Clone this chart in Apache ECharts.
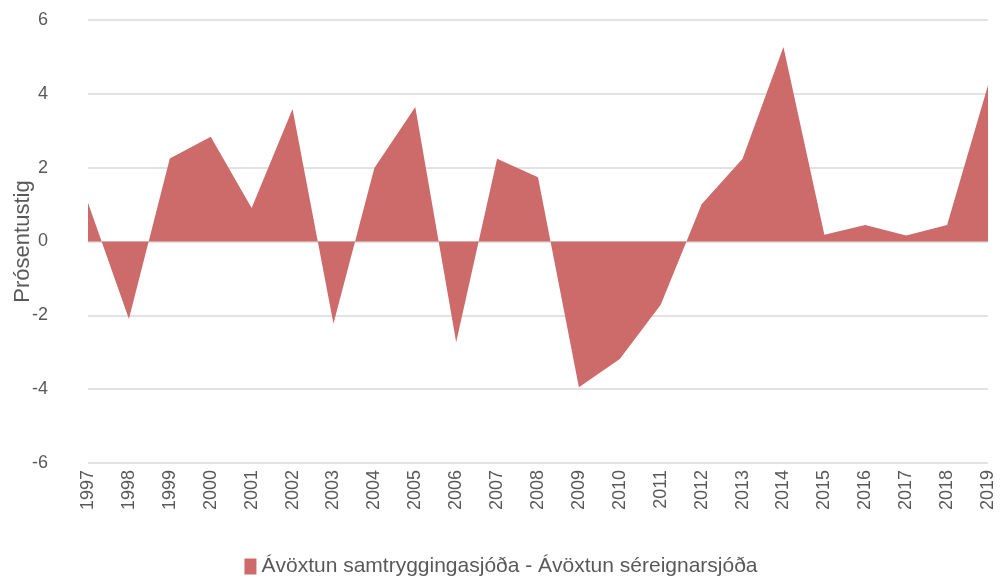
<!DOCTYPE html>
<html>
<head>
<meta charset="utf-8">
<script src="https://cdn.jsdelivr.net/npm/echarts@6/dist/echarts.min.js"></script>
<style>
  html, body { margin: 0; padding: 0; background: #fff; }
  #chart { width: 1002px; height: 586px; }
</style>
</head>
<body>
<div id="chart"></div>
<script>
const years = ['1997','1998','1999','2000','2001','2002','2003','2004','2005','2006','2007','2008',
  '2009','2010','2011','2012','2013','2014','2015','2016','2017','2018','2019']
const diff = [1.05, -2.1, 2.25, 2.84, 0.91, 3.59, -2.23, 1.99, 3.64, -2.73, 2.24, 1.74,
  -3.95, -3.18, -1.71, 1.01, 2.24, 5.27, 0.18, 0.45, 0.16, 0.45, 4.23]
const seriesName = 'Ávöxtun samtryggingasjóða - Ávöxtun séreignarsjóða'
const yTitle = 'Prósentustig'

const font = "'Liberation Sans', sans-serif"
const chart = echarts.init(document.getElementById('chart'))

chart.setOption({
  animation: false,
  grid: { left: 88, right: 14, top: 20, bottom: 123, outerBoundsMode: 'none' },
  legend: {
    bottom: 4,
    left: 'center',
    icon: 'rect',
    itemWidth: 12,
    itemHeight: 16,
    itemGap: 6,
    textStyle: { fontFamily: font, fontSize: 21, color: '#595959' },
    data: [seriesName]
  },
  xAxis: {
    type: 'category',
    data: years,
    boundaryGap: false,
    axisLine: { show: false },
    axisTick: { show: false },
    axisLabel: {
      rotate: 90,
      margin: 7,
      interval: 0,
      fontFamily: font,
      fontSize: 18,
      color: '#595959'
    }
  },
  yAxis: {
    type: 'value',
    min: -6,
    max: 6,
    interval: 2,
    name: yTitle,
    nameLocation: 'middle',
    nameGap: 54,
    nameMoveOverlap: false,
    nameTextStyle: { fontFamily: font, fontSize: 22, color: '#595959' },
    axisLine: { show: false },
    axisTick: { show: false },
    axisLabel: { margin: 40, fontFamily: font, fontSize: 18, color: '#595959' },
    splitLine: { lineStyle: { color: '#d9d9d9', width: 1.5 } }
  },
  series: [{
    name: seriesName,
    type: 'line',
    data: diff,
    symbol: 'none',
    lineStyle: { width: 0 },
    itemStyle: { color: '#cd6b6b' },
    areaStyle: { color: '#cd6b6b', opacity: 1, origin: 0 }
  }]
})
</script>
</body>
</html>
